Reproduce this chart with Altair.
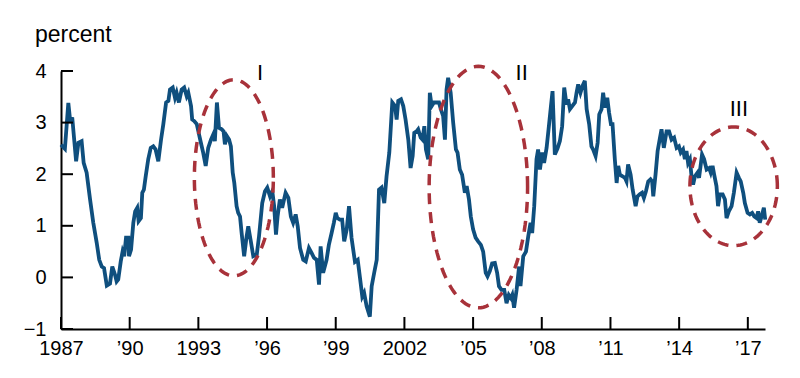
import altair as alt
import pandas as pd
import numpy as np

# ---- series (decimal year, percent) ----
years = [
    1987.00, 1987.17, 1987.32, 1987.41, 1987.49, 1987.66, 1987.76, 1987.90, 1987.99, 1988.12,
    1988.27, 1988.41, 1988.56, 1988.67, 1988.78, 1988.88, 1989.00, 1989.14, 1989.24, 1989.36,
    1989.43, 1989.50, 1989.61, 1989.69, 1989.76, 1989.84, 1989.94, 1989.97, 1990.06, 1990.16,
    1990.24, 1990.33, 1990.39, 1990.49, 1990.55, 1990.62, 1990.70, 1990.81, 1990.92, 1991.03,
    1991.13, 1991.25, 1991.37, 1991.47, 1991.59, 1991.69, 1991.76, 1991.88, 1991.98, 1992.05,
    1992.15, 1992.27, 1992.38, 1992.49, 1992.56, 1992.68, 1992.73, 1992.82, 1992.93, 1993.00,
    1993.11, 1993.21, 1993.32, 1993.43, 1993.55, 1993.65, 1993.72, 1993.81, 1993.90, 1994.02,
    1994.10, 1994.16, 1994.24, 1994.34, 1994.42, 1994.50, 1994.57, 1994.67, 1994.74, 1994.82,
    1994.89, 1995.00, 1995.11, 1995.18, 1995.28, 1995.40, 1995.55, 1995.65, 1995.79, 1995.91,
    1996.01, 1996.13, 1996.23, 1996.31, 1996.39, 1996.46, 1996.56, 1996.66, 1996.81, 1996.93,
    1997.04, 1997.14, 1997.25, 1997.34, 1997.44, 1997.58, 1997.69, 1997.83, 1997.95, 1998.05,
    1998.17, 1998.27, 1998.34, 1998.45, 1998.60, 1998.70, 1998.82, 1998.92, 1999.00, 1999.07,
    1999.18, 1999.28, 1999.37, 1999.48, 1999.58, 1999.69, 1999.84, 1999.96, 2000.06, 2000.16,
    2000.24, 2000.35, 2000.49, 2000.57, 2000.68, 2000.79, 2000.89, 2001.00, 2001.12, 2001.22,
    2001.34, 2001.47, 2001.59, 2001.66, 2001.73, 2001.85, 2001.95, 2002.05, 2002.17, 2002.27,
    2002.36, 2002.43, 2002.53, 2002.60, 2002.71, 2002.79, 2002.87, 2002.94, 2003.04, 2003.11,
    2003.19, 2003.29, 2003.41, 2003.51, 2003.59, 2003.69, 2003.77, 2003.84, 2003.91, 2004.02,
    2004.13, 2004.25, 2004.32, 2004.42, 2004.52, 2004.64, 2004.72, 2004.82, 2004.90, 2005.00,
    2005.11, 2005.22, 2005.34, 2005.44, 2005.55, 2005.63, 2005.73, 2005.83, 2005.95, 2006.05,
    2006.13, 2006.24, 2006.36, 2006.46, 2006.56, 2006.65, 2006.71, 2006.79, 2006.90, 2007.01,
    2007.07, 2007.19, 2007.31, 2007.41, 2007.51, 2007.58, 2007.67, 2007.77, 2007.84, 2007.92,
    2008.02, 2008.10, 2008.21, 2008.31, 2008.40, 2008.47, 2008.57, 2008.69, 2008.79, 2008.89,
    2008.98, 2009.08, 2009.15, 2009.23, 2009.33, 2009.45, 2009.52, 2009.59, 2009.69, 2009.78,
    2009.88, 2009.96, 2010.07, 2010.17, 2010.24, 2010.35, 2010.44, 2010.51, 2010.61, 2010.68,
    2010.76, 2010.86, 2010.94, 2011.02, 2011.09, 2011.19, 2011.27, 2011.34, 2011.41, 2011.53,
    2011.63, 2011.70, 2011.77, 2011.88, 2011.97, 2012.10, 2012.18, 2012.28, 2012.38, 2012.46,
    2012.55, 2012.65, 2012.75, 2012.82, 2012.87, 2012.97, 2013.06, 2013.16, 2013.23, 2013.33,
    2013.45, 2013.56, 2013.67, 2013.78, 2013.89, 2013.99, 2014.07, 2014.17, 2014.25, 2014.32,
    2014.39, 2014.47, 2014.54, 2014.61, 2014.69, 2014.80, 2014.87, 2015.00, 2015.09, 2015.20,
    2015.31, 2015.38, 2015.46, 2015.53, 2015.63, 2015.70, 2015.78, 2015.90, 2016.00, 2016.07,
    2016.17, 2016.29, 2016.39, 2016.51, 2016.61, 2016.69, 2016.80, 2016.87, 2016.99, 2017.09,
    2017.19, 2017.28, 2017.38, 2017.45, 2017.52, 2017.60, 2017.70, 2017.76,
]
values = [
    2.57, 2.49, 3.38, 3.00, 3.10, 2.25, 2.61, 2.64, 2.22, 2.03,
    1.51, 1.06, 0.67, 0.34, 0.21, 0.18, -0.16, -0.12, 0.21, 0.05,
    -0.08, -0.04, 0.31, 0.50, 0.41, 0.77, 0.77, 0.41, 0.54, 1.06,
    1.28, 1.35, 1.09, 1.15, 1.64, 1.70, 1.96, 2.29, 2.51, 2.54,
    2.48, 2.25, 2.67, 2.97, 3.39, 3.42, 3.64, 3.68, 3.48, 3.58,
    3.39, 3.64, 3.68, 3.51, 3.58, 3.32, 3.06, 3.03, 2.97, 2.83,
    2.61, 2.42, 2.16, 2.51, 2.67, 2.77, 2.64, 3.39, 2.90, 2.87,
    2.83, 2.58, 2.74, 2.67, 2.54, 2.03, 1.83, 1.38, 1.25, 1.18,
    0.86, 0.41, 0.80, 0.99, 0.73, 0.41, 0.44, 0.80, 1.44, 1.67,
    1.74, 1.57, 1.67, 1.38, 0.83, 1.18, 1.51, 1.35, 1.64, 1.54,
    1.18, 1.06, 1.22, 0.99, 0.57, 0.34, 0.31, 0.57, 0.47, 0.38,
    0.34, -0.14, 0.60, 0.09, 0.34, 0.63, 0.86, 1.06, 1.25, 1.15,
    1.12, 1.12, 0.70, 0.93, 1.38, 0.77, 0.30, 0.34, -0.01, -0.37,
    -0.30, -0.56, -0.76, -0.17, 0.09, 0.34, 1.70, 1.74, 1.44, 1.96,
    2.42, 3.39, 3.32, 3.06, 3.42, 3.45, 3.32, 3.06, 2.67, 2.12,
    2.35, 2.80, 2.83, 2.87, 2.71, 2.67, 2.93, 2.48, 2.29, 3.58,
    3.32, 3.39, 3.39, 3.39, 3.26, 3.13, 2.67, 3.64, 3.87, 3.58,
    3.00, 2.48, 2.42, 2.09, 1.99, 1.64, 1.77, 1.51, 1.18, 0.93,
    0.77, 0.70, 0.63, 0.50, 0.09, 0.02, 0.12, 0.27, 0.28, 0.09,
    -0.17, -0.24, -0.24, -0.50, -0.34, -0.40, -0.34, -0.59, -0.24, 0.21,
    -0.17, 0.41, 0.50, 0.80, 1.06, 0.86, 1.38, 2.29, 2.48, 2.09,
    2.42, 2.22, 2.51, 2.93, 3.32, 3.61, 2.38, 2.50, 2.64, 2.93,
    3.68, 3.35, 3.45, 3.26, 3.32, 3.39, 3.58, 3.74, 3.58, 3.71,
    3.81, 3.26, 2.97, 2.54, 2.48, 2.35, 2.61, 3.16, 3.26, 3.58,
    3.29, 3.48, 3.19, 2.97, 2.97, 2.29, 1.83, 2.16, 1.99, 1.96,
    1.93, 1.86, 2.19, 1.99, 1.70, 1.38, 1.57, 1.61, 1.64, 1.54,
    1.67, 1.86, 1.90, 1.86, 1.57, 2.00, 2.45, 2.70, 2.87, 2.51,
    2.83, 2.83, 2.67, 2.71, 2.51, 2.54, 2.42, 2.48, 2.29, 2.45,
    2.22, 2.29, 1.96, 1.80, 1.96, 2.03, 1.93, 2.38, 2.29, 2.09,
    2.12, 2.03, 2.16, 1.99, 1.77, 1.38, 1.61, 1.61, 1.51, 1.15,
    1.28, 1.38, 1.64, 2.03, 1.93, 1.86, 1.64, 1.44, 1.25, 1.22,
    1.25, 1.18, 1.15, 1.28, 1.06, 1.18, 1.35, 1.12,
]

# ---- axes ----
x_ticks = [1987, 1990, 1993, 1996, 1999, 2002, 2005, 2008, 2011, 2014, 2017]
x_tick_labels = ["1987", "\u201990", "1993", "\u201996", "\u201999", "2002",
                 "\u201905", "\u201908", "\u201911", "\u201914", "\u201917"]
y_ticks = [-1, 0, 1, 2, 3, 4]
x_domain = [1987, 2017.75]
y_domain = [-1, 4]

# ---- annotations ----
ellipse_names = ["I", "II", "III"]
ellipse_cx = [1994.55, 2005.23, 2016.38]
ellipse_cy = [1.93, 1.75, 1.765]
ellipse_rx = [1.725, 2.15, 1.91]
ellipse_ry = [1.90, 2.34, 1.15]
label_x = [1995.69, 2007.12, 2016.61]
label_y = [3.97, 3.97, 3.27]

LINE = "#0F4F7E"
RED = "#A8323A"
FONT = "Liberation Sans"
W, H = 704, 258
TICK = 12

series = pd.DataFrame({"year": years, "value": values})

# ellipse outlines (annotation shapes)
rows = []
for n, cx, cy, rx, ry in zip(ellipse_names, ellipse_cx, ellipse_cy, ellipse_rx, ellipse_ry):
    for deg in range(0, 361, 3):
        t = np.deg2rad(deg)
        rows.append({"name": n, "t": deg, "year": cx + rx * np.cos(t), "value": cy + ry * np.sin(t)})
ell = pd.DataFrame(rows)
labels = pd.DataFrame({"name": ellipse_names, "year": label_x, "value": label_y})

label_expr = ""
for v, lab in zip(x_ticks, x_tick_labels):
    label_expr += f"datum.value == {v} ? '{lab}' : "
label_expr += "''"

xs = alt.Scale(domain=x_domain, nice=False, zero=False)
ys = alt.Scale(domain=y_domain, nice=False, zero=False)

x_axis = alt.Axis(values=x_ticks, labelExpr=label_expr, ticks=False, grid=False, title=None,
                  domainColor="black", domainWidth=2, labelFont=FONT, labelFontSize=20,
                  labelColor="black", labelPadding=9, labelFlush=False, labelOverlap=False)
y_axis = alt.Axis(values=y_ticks, ticks=False, grid=False, title=None,
                  domainColor="black", domainWidth=2, labelFont=FONT, labelFontSize=20,
                  labelColor="black", labelPadding=15, labelOverlap=False)

X = alt.X("year:Q", scale=xs, axis=x_axis)
Y = alt.Y("value:Q", scale=ys, axis=y_axis)

line = alt.Chart(series).mark_line(color=LINE, strokeWidth=3.8).encode(x=X, y=Y)

xt = alt.Chart(pd.DataFrame({"year": x_ticks})).mark_rule(color="black", strokeWidth=2).encode(
    x=X, y=alt.value(H), y2=alt.value(H - TICK),
)
yt = alt.Chart(pd.DataFrame({"value": y_ticks})).mark_rule(color="black", strokeWidth=2).encode(
    y=Y, x=alt.value(0), x2=alt.value(TICK),
)

ellipses = alt.Chart(ell).mark_line(color=RED, strokeWidth=3.5, strokeDash=[11, 8]).encode(
    x=X, y=Y, detail="name:N", order="t:Q",
)

roman = alt.Chart(labels).mark_text(font=FONT, fontSize=22, color="black", baseline="middle").encode(
    x=X, y=Y, text="name:N",
)

unit = alt.Chart(alt.Data(values=[{"t": "percent"}])).mark_text(
    font=FONT, fontSize=23, color="black", align="left", baseline="alphabetic"
).encode(x=alt.value(-26), y=alt.value(-29), text="t:N")

chart = alt.layer(line, xt, yt, ellipses, roman, unit).properties(
    width=W, height=H,
    autosize=alt.AutoSizeParams(type="none"),
    padding={"left": 61, "top": 71, "right": 35, "bottom": 49},
    background="white",
).configure_view(stroke=None)

chart.save("out.html", embed_options={"renderer": "svg", "actions": False})
